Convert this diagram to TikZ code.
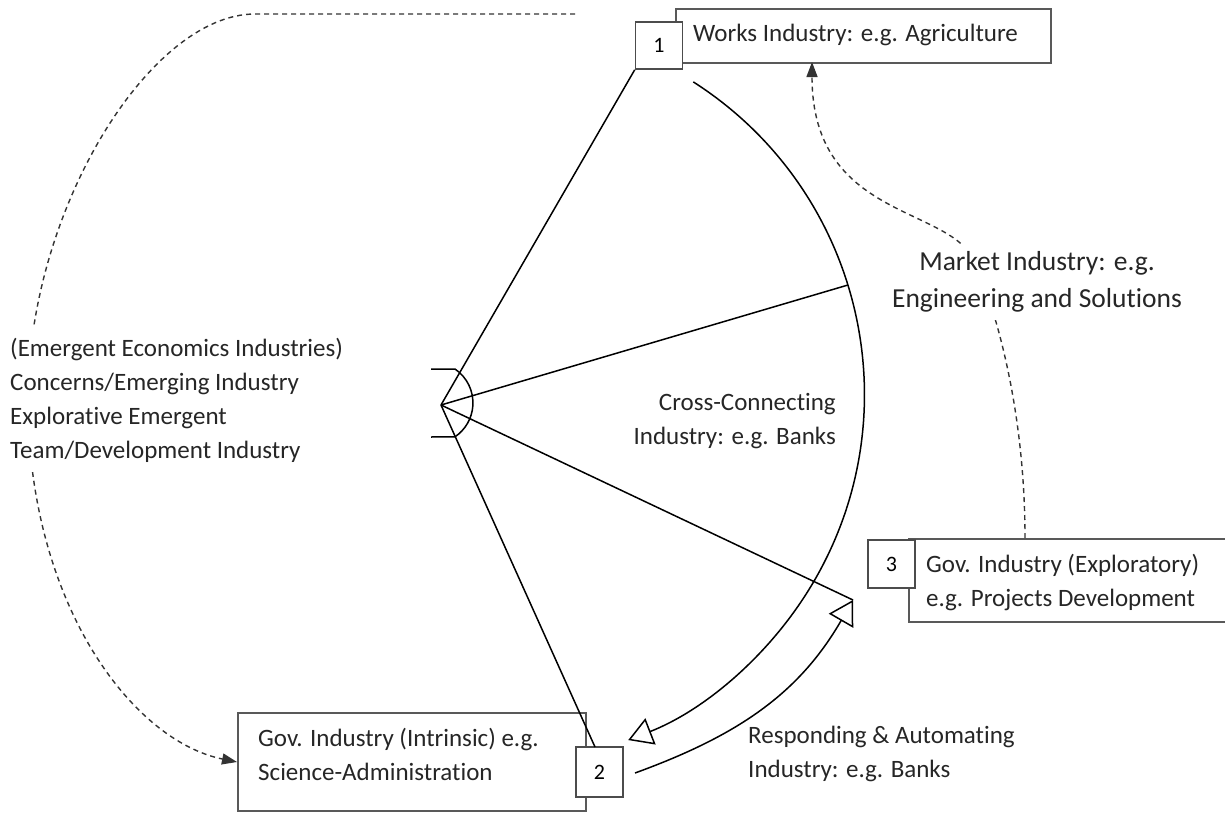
\documentclass[tikz,border=0pt]{standalone}
\usepackage{fontspec}
\setmainfont{Carlito}[Ligatures=NoCommon]
\usetikzlibrary{arrows.meta}
\begin{document}
\begin{tikzpicture}[x=1pt,y=1pt,
  bigbox/.style={draw=black!65, line width=2pt, fill=white, inner sep=0pt},
  numbox/.style={draw=black!70, line width=1.6pt, fill=white, inner sep=0pt, font=\fontsize{22}{26}\selectfont},
  txt/.style={font=\fontsize{25}{34}\selectfont, inner sep=0pt, text=black!85},
  conn/.style={line width=1.5pt, black},
  dsh/.style={line width=1.4pt, black!80, dash pattern=on 5pt off 4pt},
  openarr/.style={-{Triangle[open, length=24pt, width=28pt, line width=1.5pt]}},
  solidarr/.style={-{Triangle[length=15pt, width=11pt]}},
]
\useasboundingbox (0,0) rectangle (1225,-816);

% boxes
\node[bigbox, minimum width=375pt, minimum height=54pt, anchor=north west] (b1) at (675,-8) {};
\node[bigbox, minimum width=330pt, minimum height=83pt, anchor=north west] (b3) at (908,-538) {};
\node[bigbox, minimum width=348pt, minimum height=98pt, anchor=north west] (b2) at (237,-712) {};

\node[numbox, minimum width=47pt, minimum height=47pt] (n1) at (659,-45.5) {1};
\node[numbox, minimum width=47pt, minimum height=50pt] (n2) at (599.5,-772) {2};
\node[numbox, minimum width=47pt, minimum height=48pt] (n3) at (891.5,-564) {3};

% coordinates
\coordinate (hub) at (441,-405);
\coordinate (tip3) at (853,-600);
\coordinate (arcA) at (693.3,-81.9);
\coordinate (arcM) at (848,-285);
\coordinate (n2top) at (595,-747);
\coordinate (lowS) at (635,-773);
\coordinate (dashS) at (575,-14);
\coordinate (mkS) at (1025,-538);
\coordinate (mkE) at (812,-62);

% dashed connectors
\draw[dsh, solidarr] (dashS) -- (255,-14) .. controls (150,-14) and (28,-210) .. (28,-400)
  .. controls (28,-600) and (130,-740) .. (b2.west);
\draw[dsh, solidarr] (mkS) .. controls (1025,-420) and (1000,-320) .. (975,-262)
  .. controls (950,-205) and (812,-220) .. (mkE);

% texts
\node[txt, anchor=west] (t1) at (693,-35) {Works Industry: e.g. Agriculture};
\node[txt, anchor=west, align=left] (t3) at (926,-582) {Gov. Industry (Exploratory)\\e.g. Projects Development};
\node[txt, anchor=west, align=left] (t2) at (258,-754) {Gov. Industry (Intrinsic) e.g.\\Science-Administration};
\node[txt, anchor=west, align=left, fill=white, inner ysep=10pt] (tl) at (10,-400)
  {(Emergent Economics Industries)\\Concerns/Emerging Industry\\Explorative Emergent\\Team/Development Industry};
\node[txt, font=\fontsize{27.5}{37}\selectfont, align=center, fill=white, inner ysep=8pt, inner xsep=4pt] (tm) at (1037,-282)
  {Market Industry: e.g.\\Engineering and Solutions};
\node[txt, anchor=east, align=right] (tc) at (836,-421) {Cross-Connecting\\Industry: e.g. Banks};
\node[txt, anchor=west, align=left] (tr) at (748,-754) {Responding \& Automating\\Industry: e.g. Banks};

% solid connectors
\draw[conn] (hub) -- (n1.south west);
\draw[conn] (hub) -- (arcM);
\draw[conn] (hub) -- (tip3);
\draw[conn] (hub) -- (n2top);
\draw[conn] (431,-369) -- (455,-369) arc[start angle=55.8, end angle=-55.8, radius=41pt] -- (431,-437);
\draw[conn, openarr] (arcA) arc[start angle=57.4, end angle=-68.7, radius=371pt];
\draw[conn, openarr] (lowS) to[out=20, in=240] (tip3);
\end{tikzpicture}
\end{document}
